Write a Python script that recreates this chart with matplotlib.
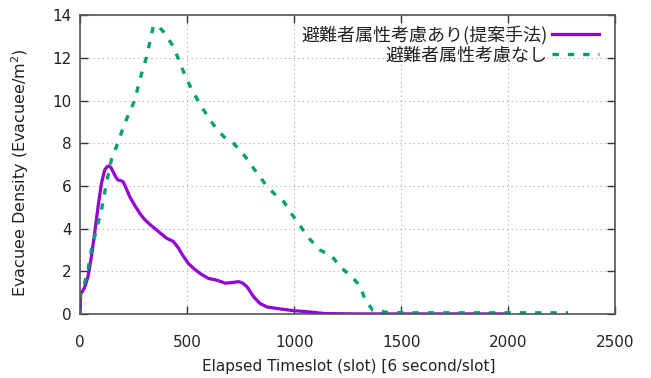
import matplotlib
matplotlib.use("Agg")
import matplotlib.pyplot as plt

# density over time, evacuee attributes considered (proposed method)
slot_attr = [0, 3, 10, 21, 37, 53, 68, 84, 100, 115, 126, 135, 145, 154, 165,
             177, 190, 201, 215, 232, 255, 279, 300, 326, 358, 380, 405, 436,
             459, 480, 506, 535, 561, 600, 639, 678, 702, 741, 760, 780, 811,
             840, 874, 937, 999, 1050, 1093, 1140, 1200, 1300, 1500, 1700, 2000]
dens_attr = [0, 0.97, 1.05, 1.25, 1.75, 2.69, 3.78, 5.03, 6.13, 6.75, 6.9,
             6.94, 6.85, 6.67, 6.45, 6.28, 6.25, 6.2, 5.9, 5.5, 5.1, 4.72,
             4.45, 4.2, 3.94, 3.75, 3.55, 3.4, 3.1, 2.75, 2.37, 2.1, 1.9,
             1.67, 1.59, 1.45, 1.47, 1.52, 1.45, 1.28, 0.81, 0.5, 0.33, 0.24,
             0.16, 0.12, 0.08, 0.03, 0.02, 0.01, 0.01, 0.01, 0.01]

# density over time, attributes not considered
slot_none = [0, 2, 21, 37, 53, 76, 100, 123, 151, 170, 209, 256, 279, 311,
             342, 358, 389, 436, 483, 522, 577, 624, 671, 717, 772, 827, 874,
             921, 952, 992, 1031, 1074, 1121, 1150, 1175, 1218, 1269, 1309,
             1331, 1367, 1438, 1516, 1700, 2000, 2280]
dens_none = [0, 0.97, 1.44, 2.06, 3.0, 3.94, 4.88, 6.13, 7.45, 7.84, 8.94,
             10.03, 10.97, 12.06, 13.47, 13.55, 13.23, 12.53, 11.36, 10.5,
             9.56, 8.86, 8.31, 8.0, 7.37, 6.6, 5.97, 5.5, 5.26, 4.64, 4.09,
             3.5, 3.0, 2.85, 2.73, 2.19, 1.75, 1.31, 0.69, 0.19, 0.08, 0.06,
             0.06, 0.06, 0.06]

label_attr = "避難者属性考慮あり(提案手法)"
label_none = "避難者属性考慮なし"

fig = plt.figure(figsize=(6.51, 3.78), dpi=100)
ax = fig.add_axes([0.123, 0.169, 0.822, 0.791])

ax.plot(slot_attr, dens_attr, color="#9400d3", lw=2.3, label=label_attr,
        solid_joinstyle="round")
ax.plot(slot_none, dens_none, color="#009e73", lw=2.4, label=label_none,
        linestyle=(0, (1.9, 2.7)), dash_capstyle="butt")

ax.set_xlim(0, 2500)
ax.set_ylim(0, 14)
ax.set_xticks(range(0, 2501, 500))
ax.set_yticks(range(0, 15, 2))
ax.grid(True, color="#a8a8a8", linestyle=(0, (1, 3)), lw=0.8)

for s in ax.spines.values():
    s.set_color("#555555")
    s.set_linewidth(1.2)
ax.tick_params(direction="in", top=True, right=True, length=6,
               width=1.0, color="#333333", labelsize=11,
               labelcolor="#222222")
ax.tick_params(axis="x", pad=15)
ax.tick_params(axis="y", pad=6)

ax.set_xlabel("Elapsed Timeslot (slot) [6 second/slot]", fontsize=11,
              color="#222222")
ax.set_ylabel("Evacuee Density (Evacuee/m$^2$)", fontsize=11.5,
              color="#222222")
ax.xaxis.set_label_coords(0.503, -0.151)
ax.yaxis.set_label_coords(-0.092, 0.475)

leg = ax.legend(loc="upper right", bbox_to_anchor=(0.97, 0.965),
                frameon=False, markerfirst=False, borderaxespad=0,
                borderpad=0, handlelength=2.6, handletextpad=0.25,
                labelspacing=0.12,
                prop={"family": ["Noto Sans CJK JP", "DejaVu Sans"],
                      "size": 13})
for t in leg.get_texts():
    t.set_color("#222222")

fig.savefig("out.png", dpi=100)
